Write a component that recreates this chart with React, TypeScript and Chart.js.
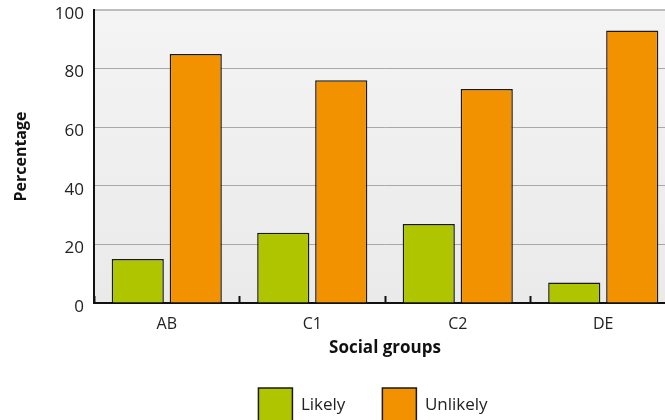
import React, { useEffect, useRef } from "react";
import { Chart, registerables } from "chart.js";

Chart.register(...registerables);

const categories = ["AB", "C1", "C2", "DE"];
const likely = [15, 24, 27, 7];
const unlikely = [85, 76, 73, 93];
const seriesNames = ["Likely", "Unlikely"];
const yTicks = [0, 20, 40, 60, 80, 100];

const FONT = "'Open Sans', 'DejaVu Sans', sans-serif";
const W = 676;
const H = 432;

const bgPlugin = {
  id: "plotBg",
  beforeDraw(chart: any) {
    const { ctx, chartArea } = chart;
    if (!chartArea) return;
    const g = ctx.createLinearGradient(0, chartArea.top, 0, chartArea.bottom);
    g.addColorStop(0, "#f4f4f4");
    g.addColorStop(1, "#eaeaea");
    ctx.save();
    ctx.fillStyle = g;
    ctx.fillRect(chartArea.left, chartArea.top, chartArea.right - chartArea.left, chartArea.bottom - chartArea.top);
    ctx.restore();
  },
  afterLayout(chart: any) {
    const lg = chart.legend;
    if (lg) {
      lg.left -= 12;
      lg.right -= 12;
    }
  },
};

export default function App() {
  const ref = useRef<HTMLCanvasElement | null>(null);
  useEffect(() => {
    if (!ref.current) return;
    const chart = new Chart(ref.current, {
      type: "bar",
      data: {
        labels: categories,
        datasets: [
          {
            label: seriesNames[0],
            data: likely,
            backgroundColor: "#afc500",
            borderColor: "#1a1a1a",
            borderWidth: 1.5,
          },
          {
            label: seriesNames[1],
            data: unlikely,
            backgroundColor: "#f39200",
            borderColor: "#1a1a1a",
            borderWidth: 1.5,
          },
        ],
      },
      options: {
        animation: false,
        responsive: false,
        devicePixelRatio: 1,
        layout: { padding: { left: 0, right: 0, top: 0, bottom: 0 } },
        datasets: { bar: { categoryPercentage: 0.797, barPercentage: 0.9 } },
        plugins: {
          tooltip: { enabled: false },
          legend: {
            position: "bottom",
            fullSize: false,
            labels: {
              boxWidth: 34,
              boxHeight: 34,
              padding: 37,
              color: "#222",
              font: { family: FONT, size: 17 },
              useBorderRadius: false,
            },
          },
        },
        scales: {
          x: {
            grid: {
              offset: true,
              drawOnChartArea: false,
              drawTicks: true,
              tickLength: -7,
              tickColor: "#111",
              tickWidth: 2,
            },
            border: { color: "#111", width: 2 },
            ticks: {
              color: "#222",
              padding: 19,
              font: { family: FONT, size: 16 },
            },
            title: {
              display: true,
              text: "Social groups",
              color: "#111",
              font: { family: FONT, size: 17, weight: "bold", lineHeight: 0.35 },
              padding: { top: 0, bottom: 0 },
            },
            afterFit(scale: any) {
              scale.height = 48;
            },
          },
          y: {
            min: 0,
            max: 100,
            afterBuildTicks(scale: any) {
              scale.ticks = yTicks.map((v) => ({ value: v }));
            },
            grid: {
              drawTicks: false,
              color: (c: any) => (c.tick && c.tick.value === 100 ? "#bdbdbd" : "#a8a8a8"),
              lineWidth: (c: any) => (c.tick && c.tick.value === 100 ? 2 : 1),
            },
            border: { color: "#111", width: 2 },
            ticks: {
              color: "#222",
              padding: 10,
              labelOffset: 4,
              font: { family: FONT, size: 17 },
            },
            title: {
              display: true,
              text: "Percentage",
              color: "#111",
              font: { family: FONT, size: 16, weight: "bold" },
              padding: { top: 12, bottom: 0 },
            },
            afterFit(scale: any) {
              scale.width = 94;
              scale.paddingTop = 10;
              scale.paddingBottom = 0;
            },
          },
        },
      },
      plugins: [bgPlugin],
    });
    return () => chart.destroy();
  }, []);

  return (
    <div style={{ position: "absolute", left: 0, top: 0, width: 665, height: 420, overflow: "hidden", background: "#fff" }}>
      <canvas ref={ref} width={W} height={H} style={{ width: W, height: H, display: "block" }} />
    </div>
  );
}
